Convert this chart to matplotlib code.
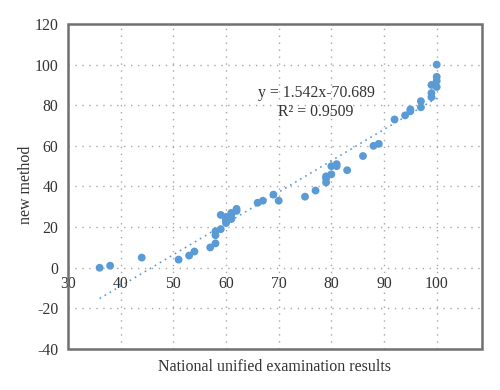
import matplotlib
matplotlib.use("Agg")
import matplotlib.pyplot as plt
from matplotlib.patches import Rectangle
import numpy as np

plt.rcParams['font.family'] = ['Liberation Serif', 'DejaVu Serif']
plt.rcParams['axes.unicode_minus'] = False

national = [36, 38, 44, 51, 53, 54, 57, 58, 58, 58, 59, 59, 60, 60, 60, 61, 61, 62, 62,
            60, 61, 66, 67, 69, 70, 75, 77, 79, 79, 79, 80, 80, 81, 81, 83, 86, 88, 89,
            92, 94, 95, 95, 97, 97, 99, 99, 99, 100, 100, 100, 100]
new_method = [0, 1, 5, 4, 6, 8, 10, 12, 16, 18, 19, 26, 22, 23, 25, 27, 24, 28, 29,
              24, 26, 32, 33, 36, 33, 35, 38, 42, 44, 45, 46, 50, 51, 50, 48, 55, 60, 61,
              73, 75, 77, 78, 79, 82, 84, 86, 90, 89, 92, 94, 100]
slope, intercept = 1.542, -70.689
r2 = 0.9509
xticks = [30, 40, 50, 60, 70, 80, 90, 100]
yticks = [-40, -20, 0, 20, 40, 60, 80, 100, 120]

fig = plt.figure(figsize=(5, 3.9), dpi=100)
ax = fig.add_axes([0.136, 0.1051, 0.828, 0.8334])

blue = '#5b9bd5'
ax.scatter(national, new_method, s=32, color=blue, edgecolors='none', zorder=3)
xs = np.array([min(national), max(national)])
ax.plot(xs, slope * xs + intercept, color=blue, linestyle=(0, (1, 2.5)), lw=1.2, zorder=2)

ax.set_xlim(30, 108.6)
ax.set_ylim(-40, 120)
ax.set_xticks(xticks)
ax.set_yticks(yticks)
ax.grid(True, color='#a6a6a6', linestyle=(0, (1, 4)), lw=1, zorder=0)

for s in ax.spines.values():
    s.set_visible(False)
ax.spines['bottom'].set_position(('data', 0))
ax.tick_params(length=0, labelsize=11.3, colors='#333333')
ax.tick_params(axis='x', pad=6)
ax.tick_params(axis='y', pad=7)
ax.add_patch(Rectangle((0, 0), 1, 1, transform=ax.transAxes, fill=False,
                       ec='#707070', lw=1.8, clip_on=False, zorder=5))

ax.text(77.1, 86.1, 'y = %.3fx%.3f' % (slope, intercept), ha='center', va='center',
        fontsize=11.3, color='#333333')
ax.text(77.1, 76.6, 'R² = %.4f' % r2, ha='center', va='center', fontsize=11.3, color='#333333')

fig.text(0.548, 0.058, 'National unified examination results', ha='center', va='center',
         fontsize=11.5, color='#333333')
fig.text(0.052, 0.525, 'new method', ha='center', va='center', rotation=90,
         fontsize=11.5, color='#333333')

fig.savefig('out.png', dpi=100)
